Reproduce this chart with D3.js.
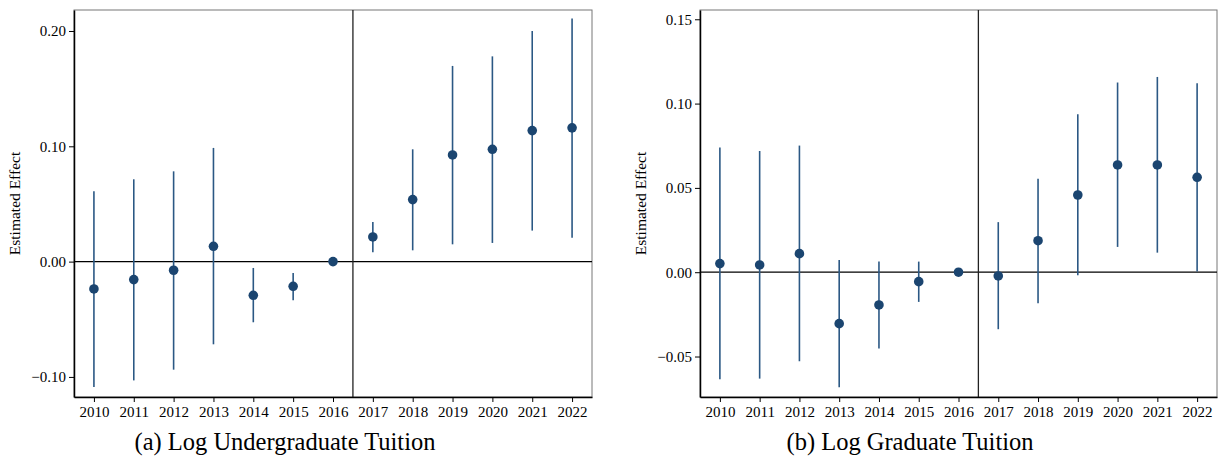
<!DOCTYPE html>
<html>
<head>
<meta charset="utf-8">
<script src="https://cdn.jsdelivr.net/npm/d3@7"></script>
<style>
  body { margin: 0; background: #fff; }
  svg text { font-family: "Liberation Serif", "DejaVu Serif", serif; fill: #000; }
  .axis path, .axis line { stroke: #000; }
</style>
</head>
<body>
<svg id="chart" width="1225" height="463"></svg>
<script>
// Data
const years = [2010, 2011, 2012, 2013, 2014, 2015, 2016, 2017, 2018, 2019, 2020, 2021, 2022];

// (a) Log Undergraduate Tuition
const ugEst = [-0.0237, -0.0156, -0.0075, 0.0133, -0.0292, -0.0214, 0, 0.0214, 0.0538, 0.0925, 0.0974, 0.1136, 0.1160];
const ugLow = [-0.1087, -0.1030, -0.0937, -0.0717, -0.0526, -0.0336, null, 0.0081, 0.0098, 0.0150, 0.0162, 0.0269, 0.0208];
const ugHigh = [0.0610, 0.0714, 0.0783, 0.0986, -0.0055, -0.0098, null, 0.0344, 0.0974, 0.1697, 0.1780, 0.2000, 0.2108];
const ugTicks = [-0.10, 0.00, 0.10, 0.20];

// (b) Log Graduate Tuition
const grEst = [0.0051, 0.0043, 0.0110, -0.0305, -0.0194, -0.0056, 0, -0.0022, 0.0187, 0.0458, 0.0636, 0.0636, 0.0563];
const grLow = [-0.0635, -0.0631, -0.0528, -0.0682, -0.0453, -0.0176, null, -0.0338, -0.0184, -0.0018, 0.0150, 0.0116, 0.0004];
const grHigh = [0.0739, 0.0719, 0.0751, 0.0073, 0.0063, 0.0063, null, 0.0297, 0.0555, 0.0937, 0.1125, 0.1158, 0.1121];
const grTicks = [-0.05, 0.00, 0.05, 0.10, 0.15];

const serif = '"Liberation Serif", "DejaVu Serif", serif';
const svg = d3.select('#chart');
const fmt = d3.format('.2f');

function panel(opts) {
  const { left, right, top, bottom, yDomain, ticks, est, low, high, caption, captionX } = opts;

  const x = d3.scaleLinear().domain([2009.5, 2022.5]).range([left, right]);
  const y = d3.scaleLinear().domain(yDomain).range([bottom, top]);

  const g = svg.append('g');

  // frame (top / right)
  g.append('rect')
    .attr('x', left).attr('y', top)
    .attr('width', right - left).attr('height', bottom - top)
    .attr('fill', 'none')
    .attr('stroke', '#777')
    .attr('stroke-width', 1);

  // zero line and treatment line
  g.append('line')
    .attr('x1', left).attr('x2', right)
    .attr('y1', y(0)).attr('y2', y(0))
    .attr('stroke', '#000').attr('stroke-width', 1.3);

  g.append('line')
    .attr('x1', x(2016.5)).attr('x2', x(2016.5))
    .attr('y1', top).attr('y2', bottom)
    .attr('stroke', '#222').attr('stroke-width', 1.3);

  // x axis
  g.append('g')
    .attr('class', 'axis')
    .attr('font-family', serif)
    .attr('transform', `translate(0, ${ bottom })`)
    .call(d3.axisBottom(x).tickValues(years).tickFormat(d3.format('d')).tickSize(5).tickPadding(4).tickSizeOuter(0))
    .call(a => a.select('.domain').attr('stroke-width', 1.5))
    .selectAll('text')
      .style('font-size', '15px');

  // y axis
  g.append('g')
    .attr('class', 'axis')
    .attr('font-family', serif)
    .attr('transform', `translate(${ left }, 0)`)
    .call(d3.axisLeft(y).tickValues(ticks).tickFormat(fmt).tickSize(5).tickPadding(3).tickSizeOuter(0))
    .call(a => a.select('.domain').attr('stroke-width', 1.5))
    .selectAll('text')
      .style('font-size', '15px');

  // y label
  g.append('text')
    .attr('transform', `translate(${ left - 59 }, ${ (top + bottom) / 2 }) rotate(-90)`)
    .attr('text-anchor', 'middle')
    .attr('dy', '0.35em')
    .style('font-size', '15.5px')
    .text('Estimated Effect');

  const rows = years.map((yr, i) => ({ yr, est: est[i], low: low[i], high: high[i] }));

  // confidence intervals
  g.selectAll('line.ci')
    .data(rows.filter(d => d.low !== null))
    .enter()
    .append('line')
      .attr('class', 'ci')
      .attr('x1', d => x(d.yr)).attr('x2', d => x(d.yr))
      .attr('y1', d => y(d.low)).attr('y2', d => y(d.high))
      .attr('stroke', '#2b5884')
      .attr('stroke-width', 1.6);

  // point estimates
  g.selectAll('circle')
    .data(rows)
    .enter()
    .append('circle')
      .attr('cx', d => x(d.yr))
      .attr('cy', d => y(d.est))
      .attr('r', 4.8)
      .attr('fill', '#1b4570');

  // caption
  svg.append('text')
    .attr('x', captionX)
    .attr('y', 450)
    .attr('text-anchor', 'middle')
    .style('font-size', '24.5px')
    .text(caption);
}

panel({
  left: 74, right: 592, top: 10, bottom: 397,
  yDomain: [-0.1174, 0.2182],
  ticks: ugTicks,
  est: ugEst, low: ugLow, high: ugHigh,
  caption: '(a) Log Undergraduate Tuition',
  captionX: 285
});

panel({
  left: 700, right: 1217, top: 10, bottom: 397,
  yDomain: [-0.0740, 0.1555],
  ticks: grTicks,
  est: grEst, low: grLow, high: grHigh,
  caption: '(b) Log Graduate Tuition',
  captionX: 910
});
</script>
</body>
</html>
